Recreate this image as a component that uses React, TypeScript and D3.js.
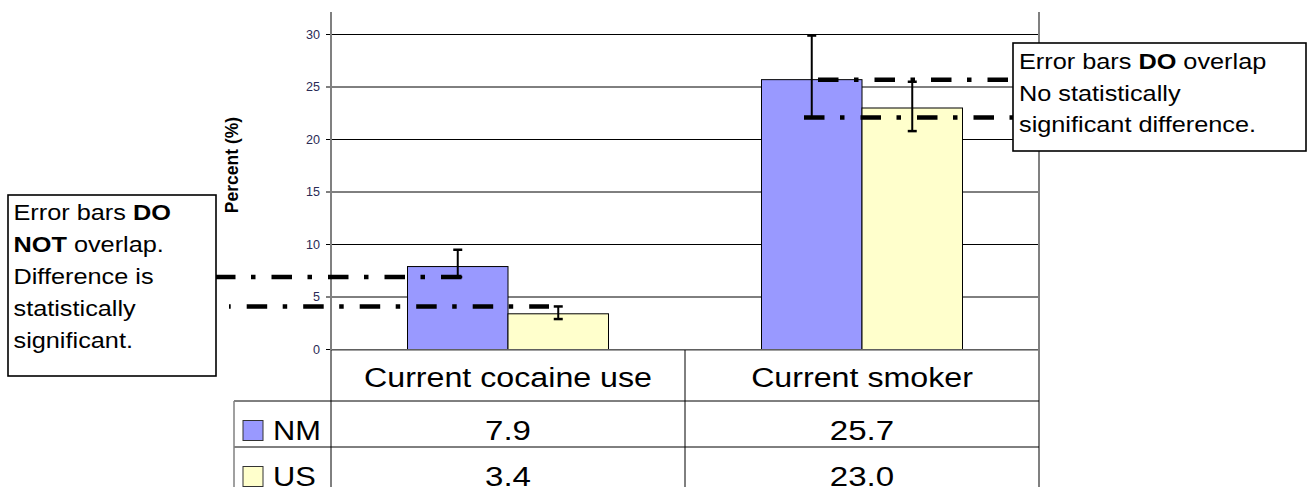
import React from "react";
import * as d3 from "d3";

const categories = ["Current cocaine use", "Current smoker"];
const seriesNames = ["NM", "US"];
const seriesColors = ["#9999FF", "#FFFFCC"];
const nmValues = [7.9, 25.7];
const usValues = [3.4, 23.0];
const nmErrLow = [6.9, 22.1];
const nmErrHigh = [9.5, 29.9];
const usErrLow = [2.9, 20.8];
const usErrHigh = [4.1, 25.5];
const yTicks = [0, 5, 10, 15, 20, 25, 30];

const leftNote = [
  [["Error bars ", false], ["DO", true]],
  [["NOT", true], [" overlap.", false]],
  [["Difference is", false]],
  [["statistically", false]],
  [["significant.", false]],
];
const rightNote = [
  [["Error bars ", false], ["DO", true], [" overlap", false]],
  [["No statistically", false]],
  [["significant difference.", false]],
];

const FONT = "'Liberation Sans', Arial, Helvetica, sans-serif";

function SText(props: any) {
  const { x, y, sx = 1.16, children, ...rest } = props;
  return (
    <text transform={`translate(${x},${y}) scale(${sx},1)`} {...rest}>
      {children}
    </text>
  );
}

export default function App() {
  const W = 1307;
  const H = 487;
  const plotL = 331;
  const plotR = 1039;
  const plotT = 12;
  const y = d3.scaleLinear().domain([0, 30]).range([349.5, 34.5]);
  const x = d3.scaleBand<string>().domain(categories).range([plotL, plotR]).padding(0);
  const sub = d3.scaleBand<string>().domain(seriesNames).range([-100.5, 100.5]).padding(0);
  const series = [
    { name: "NM", values: nmValues, lo: nmErrLow, hi: nmErrHigh, color: seriesColors[0] },
    { name: "US", values: usValues, lo: usErrLow, hi: usErrHigh, color: seriesColors[1] },
  ];
  const cx = (c: string) => (x(c) as number) + x.bandwidth() / 2;

  const dash = "20.5,15.5,4.5,16";
  const annLines = [
    { v: nmErrLow[0], x1: 215, x2: 462, off: 0 },
    { v: usErrHigh[0], x1: 229, x2: 549, off: 38.8 },
    { v: nmValues[1], x1: 818, x2: 1013, off: 0 },
    { v: nmErrLow[1], x1: 804, x2: 1013, off: 0 },
  ];

  const rowTop = 350;
  const row1 = 401;
  const row2 = 447;
  const legL = 234;
  const midX = cx(categories[0]) + x.bandwidth() / 2;

  return (
    <svg
      width={W}
      height={H}
      style={{ position: "absolute", left: 0, top: 0, background: "#fff" }}
      fontFamily={FONT}
    >
      <rect x={0} y={0} width={W} height={H} fill="#fff" />
      {/* gridlines */}
      {yTicks.map((t) => (
        <g key={t}>
          <line x1={plotL - 5} x2={plotR} y1={y(t)} y2={y(t)} stroke="#000" strokeWidth={1} />
          <SText x={320} y={y(t) + 4.3} sx={1.05} textAnchor="end" fontSize={12} fill="#2a2a55">
            {t}
          </SText>
        </g>
      ))}
      {/* bars */}
      {series.map((s) =>
        categories.map((c, i) => (
          <rect
            key={s.name + c}
            x={cx(c) + (sub(s.name) as number)}
            y={y(s.values[i])}
            width={sub.bandwidth()}
            height={y(0) - y(s.values[i])}
            fill={s.color}
            stroke="#000"
            strokeWidth={1}
          />
        ))
      )}
      {/* axes */}
      <line x1={plotL} x2={plotL} y1={plotT} y2={rowTop} stroke="#808080" strokeWidth={2} />
      <line x1={plotR} x2={plotR} y1={plotT} y2={H} stroke="#808080" strokeWidth={2} />
      <text
        transform={`translate(232,165) rotate(-90)`}
        textAnchor="middle"
        dominantBaseline="central"
        fontSize={17.5}
        fontWeight="bold"
        fill="#000"
      >
        Percent (%)
      </text>
      {/* error bars */}
      {series.map((s) =>
        categories.map((c, i) => {
          const ex = cx(c) + (sub(s.name) as number) + sub.bandwidth() / 2;
          return (
            <g key={"e" + s.name + c} stroke="#000">
              <line x1={ex} x2={ex} y1={y(s.lo[i])} y2={y(s.hi[i])} strokeWidth={2} />
              <line x1={ex - 4.5} x2={ex + 4.5} y1={y(s.lo[i])} y2={y(s.lo[i])} strokeWidth={2.5} />
              <line x1={ex - 4.5} x2={ex + 4.5} y1={y(s.hi[i])} y2={y(s.hi[i])} strokeWidth={2.5} />
            </g>
          );
        })
      )}
      {/* annotation dash-dot lines */}
      {annLines.map((a, i) => (
        <line
          key={"a" + i}
          x1={a.x1}
          x2={a.x2}
          y1={y(a.v)}
          y2={y(a.v)}
          stroke="#000"
          strokeWidth={4.5}
          strokeDasharray={dash}
          strokeDashoffset={a.off}
        />
      ))}
      {/* note boxes */}
      <rect x={8} y={195} width={208} height={181} fill="#fff" stroke="#000" strokeWidth={1.6} />
      {leftNote.map((line, i) => (
        <SText key={"l" + i} x={13.5} y={220 + i * 32} sx={1.15} fontSize={22} fill="#000">
          {line.map(([t, b], j) => (
            <tspan key={j} fontWeight={b ? "bold" : "normal"}>
              {t as string}
            </tspan>
          ))}
        </SText>
      ))}
      <rect x={1013} y={43} width={293} height={108} fill="#fff" stroke="#000" strokeWidth={1.6} />
      {rightNote.map((line, i) => (
        <SText key={"r" + i} x={1019} y={69 + i * 31.5} sx={1.15} fontSize={22} fill="#000">
          {line.map(([t, b], j) => (
            <tspan key={j} fontWeight={b ? "bold" : "normal"}>
              {t as string}
            </tspan>
          ))}
        </SText>
      ))}
      {/* data table */}
      <line x1={plotL} x2={plotR} y1={rowTop} y2={rowTop} stroke="#808080" strokeWidth={1.5} />
      <line x1={legL} x2={plotR} y1={row1} y2={row1} stroke="#000" strokeWidth={1} />
      <line x1={legL} x2={plotR} y1={row2} y2={row2} stroke="#000" strokeWidth={1} />
      <line x1={legL} x2={legL} y1={row1} y2={H} stroke="#808080" strokeWidth={1.5} />
      <line x1={plotL} x2={plotL} y1={rowTop} y2={H} stroke="#000" strokeWidth={1} />
      <line x1={midX} x2={midX} y1={rowTop} y2={H} stroke="#000" strokeWidth={1} />
      {categories.map((c) => (
        <SText key={"c" + c} x={cx(c)} y={387} sx={1.15} textAnchor="middle" fontSize={28} fill="#000">
          {c}
        </SText>
      ))}
      {series.map((s, si) => (
        <g key={"row" + s.name}>
          <rect
            x={243}
            y={(si === 0 ? row1 : row2) + 19.5}
            width={20}
            height={20}
            fill={s.color}
            stroke="#333"
            strokeWidth={1}
          />
          <SText x={273} y={(si === 0 ? row1 : row2) + 38.5} sx={1.1} fontSize={28} fill="#000">
            {s.name}
          </SText>
          {categories.map((c, i) => (
            <SText
              key={"v" + c}
              x={cx(c)}
              y={(si === 0 ? row1 : row2) + 38.5}
              sx={1.18}
              textAnchor="middle"
              fontSize={28}
              fill="#000"
            >
              {s.values[i].toFixed(1)}
            </SText>
          ))}
        </g>
      ))}
    </svg>
  );
}
